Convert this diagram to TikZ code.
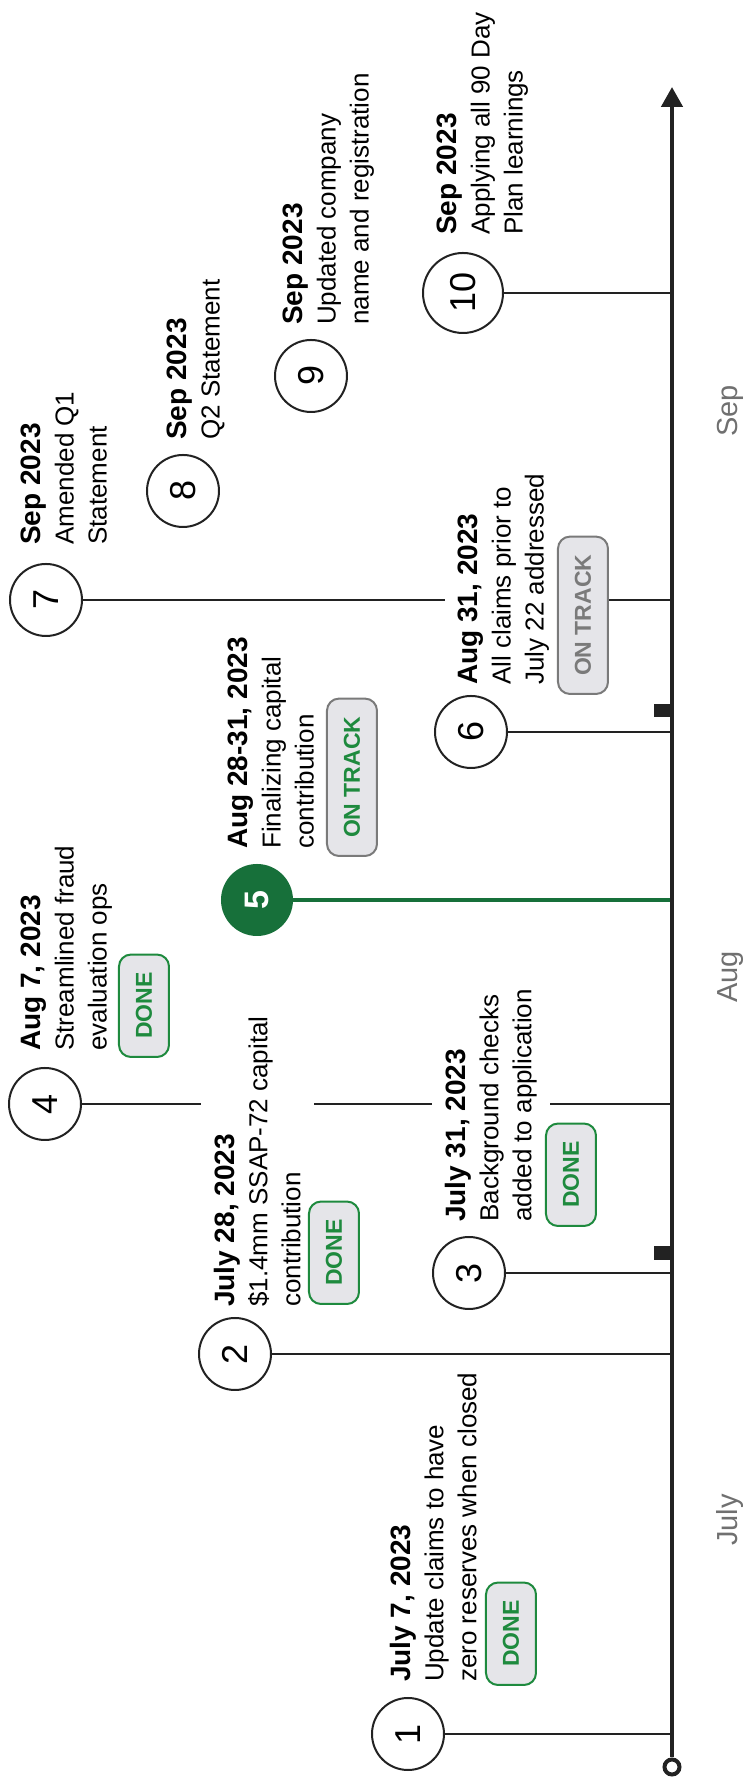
\documentclass[tikz,border=0pt]{standalone}
\usepackage{fontspec}
\setmainfont{Liberation Sans}
\usetikzlibrary{arrows.meta}

\definecolor{okgreen}{HTML}{1E8A3E}
\definecolor{deepgreen}{HTML}{17703A}
\definecolor{chipfill}{HTML}{E5E5E9}
\definecolor{chipgray}{HTML}{7A7A7A}
\definecolor{monthgray}{HTML}{707070}
\definecolor{ink}{HTML}{222222}

\tikzset{
  num/.style={circle,draw=ink,line width=2pt,fill=white,minimum size=72pt,inner sep=0pt,font=\fontsize{36}{36}\selectfont},
  stem/.style={draw=ink,line width=2.3pt},
  info/.style={anchor=north west,fill=white,align=left,inner xsep=6pt,inner ysep=13pt,font=\fontsize{26}{33}\selectfont},
  chip/.style={anchor=north west,rounded corners=12pt,line width=2pt,fill=chipfill,minimum height=50pt,inner xsep=18pt,inner ysep=0pt,font=\bfseries\fontsize{23}{23}\selectfont},
  donechip/.style={chip,draw=okgreen,text=okgreen},
  trackchip/.style={chip,draw=chipgray,text=okgreen},
  waitchip/.style={chip,draw=chipgray,text=chipgray},
  month/.style={anchor=base,text=monthgray,font=\fontsize{29}{29}\selectfont}
}
\newcommand{\mdate}[1]{{\bfseries\fontsize{28}{33}\selectfont #1}}

\begin{document}
\begin{tikzpicture}[x=1pt,y=1pt]
\begin{scope}[rotate=90,transform shape]
\useasboundingbox (0,0) rectangle (1784,746);

% points on the time axis
\coordinate (A1) at (50,74);
\coordinate (A2) at (430,74);
\coordinate (A3) at (511,74);
\coordinate (A4) at (680,74);
\coordinate (A5) at (884,74);
\coordinate (A6) at (1052,74);
\coordinate (A7) at (1184,74);
\coordinate (A10) at (1491,74);
\coordinate (T) at (1697,74);

% numbered milestones
\node[num] (c1) at (50,338) {1};
\node[num] (c2) at (430,511) {2};
\node[num] (c3) at (511,277) {3};
\node[num] (c4) at (680,701) {4};
\node[num,draw=deepgreen,fill=deepgreen,text=white,minimum size=70pt,font=\bfseries\fontsize{34}{34}\selectfont] (c5) at (884,489) {5};
\node[num] (c6) at (1052,275) {6};
\node[num] (c7) at (1184,700) {7};
\node[num] (c8) at (1293,563) {8};
\node[num] (c9) at (1408,435) {9};
\node[num,minimum size=80pt] (c10) at (1491,283) {10};

\draw[stem] (c1)--(A1);
\draw[stem] (c2)--(A2);
\draw[stem] (c3)--(A3);
\draw[stem] (c4)--(A4);
\draw[deepgreen,line width=3.5pt] (c5)--(A5);
\draw[stem] (c6)--(A6);
\draw[stem] (c7)--(A7);
\draw[stem] (c10)--(A10);

% axis with open start and arrow
\node[circle,draw=ink,line width=4pt,fill=white,minimum size=15pt,inner sep=0pt] (O) at (17,74) {};
\draw[ink,line width=4.5pt,-{Triangle[length=20pt,width=21pt]}] (O)--(T);
\fill[ink] (524,74) rectangle (538,92);
\fill[ink] (1067,74) rectangle (1080,92);

% texts (white so the stems break behind them)
\node[info] (t1) at (96,369) {\mdate{July 7, 2023}\\Update claims to have\\zero reserves when closed};
\node[info] (t2) at (471,545) {\mdate{July 28, 2023}\\\$1.4mm SSAP-72 capital\\contribution};
\node[info] (t3) at (556,314) {\mdate{July 31, 2023}\\Background checks\\added to application};
\node[info] (t4) at (727,738) {\mdate{Aug 7, 2023}\\Streamlined fraud\\evaluation ops};
\node[info] (t5) at (929,531) {\mdate{Aug 28-31, 2023}\\Finalizing capital\\contribution};
\node[info] (t6) at (1093,301) {\mdate{Aug 31, 2023}\\All claims prior to\\July 22 addressed};
\node[info] (t7) at (1233,738) {\mdate{Sep 2023}\\Amended Q1\\Statement};
\node[info] (t8) at (1338,592) {\mdate{Sep 2023}\\Q2 Statement};
\node[info] (t9) at (1453,476) {\mdate{Sep 2023}\\Updated company\\name and registration};
\node[info] (t10) at (1543,322) {\mdate{Sep 2023}\\Applying all 90 Day\\Plan learnings};

% status chips
\node[donechip] (b1) at (98,261) {DONE};
\node[donechip] (b2) at (479,438) {DONE};
\node[donechip] (b3) at (557,201) {DONE};
\node[donechip] (b4) at (726,628) {DONE};
\node[trackchip] (b5) at (927,420) {ON TRACK};
\node[waitchip] (b6) at (1089,189) {ON TRACK};

% months
\node[month] (jul) at (264,9) {July};
\node[month] (aug) at (807,9) {Aug};
\node[month] (sep) at (1373,9) {Sep};
\end{scope}
\end{tikzpicture}
\end{document}
